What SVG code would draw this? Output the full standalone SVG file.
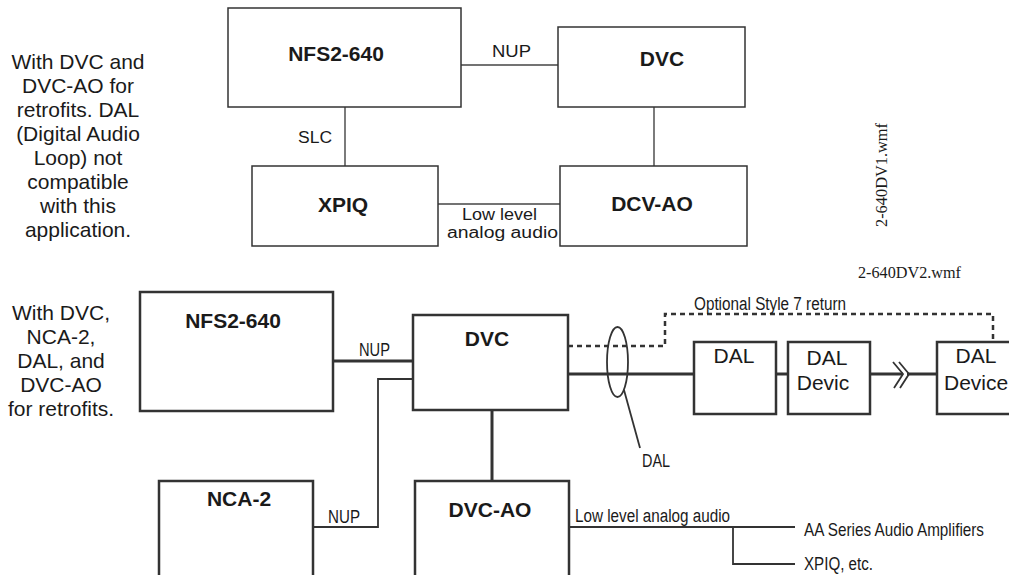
<svg xmlns="http://www.w3.org/2000/svg" width="1009" height="575" viewBox="0 0 1009 575">
<style>
text{font-family:"Liberation Sans",Arial,sans-serif;fill:#1a1a1a}
.note{font-size:21px;text-anchor:middle}
.bold{font-size:21px;font-weight:bold;text-anchor:middle}
.reg{font-size:21px;text-anchor:middle}
.lbl{font-size:16px}
.cond{font-size:18px}
.serif{font-family:"Liberation Serif","Times New Roman",serif;font-size:16px}
.box1{fill:#fff;stroke:#333;stroke-width:1.5}
.box2{fill:#fff;stroke:#333;stroke-width:2.5}
.ln1{fill:none;stroke:#444;stroke-width:1.4}
.ln2{fill:none;stroke:#333;stroke-width:1.8}
.thick{fill:none;stroke:#333;stroke-width:3}
.dash{fill:none;stroke:#333;stroke-width:2.5;stroke-dasharray:5 4}
</style>

<!-- Notes -->
<g id="note-top">
<text class="note" x="78" y="69">With DVC and</text>
<text class="note" x="78" y="93">DVC-AO for</text>
<text class="note" x="78" y="117">retrofits. DAL</text>
<text class="note" x="78" y="141">(Digital Audio</text>
<text class="note" x="78" y="165">Loop) not</text>
<text class="note" x="78" y="189">compatible</text>
<text class="note" x="78" y="213">with this</text>
<text class="note" x="78" y="237">application.</text>
</g>
<g id="note-bottom">
<text class="note" x="61" y="320">With DVC,</text>
<text class="note" x="61" y="344">NCA-2,</text>
<text class="note" x="61" y="368">DAL, and</text>
<text class="note" x="61" y="392">DVC-AO</text>
<text class="note" x="61" y="416">for retrofits.</text>
</g>
<g id="file-labels">
<text class="serif" transform="translate(887,227) rotate(-90)" textLength="104" lengthAdjust="spacingAndGlyphs">2-640DV1.wmf</text>
<text class="serif" x="858" y="278" textLength="103" lengthAdjust="spacingAndGlyphs">2-640DV2.wmf</text>
</g>

<!-- Connectors -->
<g id="connectors">
<!-- top diagram -->
<line class="ln1" x1="461" y1="65" x2="558" y2="65"/>
<line class="ln1" x1="345" y1="107" x2="345" y2="166"/>
<line class="ln1" x1="654" y1="107" x2="654" y2="166"/>
<line class="ln1" x1="438" y1="204" x2="560" y2="204"/>
<text class="lbl" x="492" y="57" textLength="39" lengthAdjust="spacingAndGlyphs">NUP</text>
<text class="lbl" x="298" y="143" textLength="34" lengthAdjust="spacingAndGlyphs">SLC</text>
<text class="lbl" x="462" y="220" textLength="75" lengthAdjust="spacingAndGlyphs">Low level</text>
<text class="lbl" x="447" y="238" textLength="111" lengthAdjust="spacingAndGlyphs">analog audio</text>

<!-- bottom diagram -->
<line class="thick" x1="333" y1="361" x2="413" y2="361"/>
<text class="cond" x="359" y="356" textLength="31" lengthAdjust="spacingAndGlyphs">NUP</text>
<polyline class="ln2" points="313,527 378,527 378,379 413,379"/>
<text class="cond" x="328" y="523" textLength="32" lengthAdjust="spacingAndGlyphs">NUP</text>
<line class="thick" x1="492" y1="410" x2="492" y2="481"/>
<polyline class="dash" points="568,346 665,346 665,314 993,314 993,342"/>
<text class="cond" x="694" y="310" textLength="152" lengthAdjust="spacingAndGlyphs">Optional Style 7 return</text>
<line class="thick" x1="568" y1="374" x2="694" y2="374"/>
<ellipse cx="617.5" cy="362" rx="10.5" ry="35" fill="none" stroke="#333" stroke-width="1.8"/>
<line class="ln2" x1="624" y1="390" x2="640" y2="448"/>
<text class="cond" x="642" y="467" textLength="28" lengthAdjust="spacingAndGlyphs">DAL</text>
<line class="thick" x1="776" y1="374" x2="788" y2="374"/>
<line class="thick" x1="870" y1="374" x2="903" y2="374"/>
<line class="thick" x1="907" y1="374" x2="937" y2="374"/>
<polyline class="ln2" points="893,362 903,374 894,388"/>
<polyline class="ln2" points="899,362 909,374 900,388"/>
<polyline class="ln2" points="569,527 795,527"/>
<polyline class="ln2" points="733,527 733,564 795,564"/>
<text class="cond" x="575" y="522" textLength="155" lengthAdjust="spacingAndGlyphs">Low level analog audio</text>
<g transform="translate(804,536) scale(1,1.2)">
<text x="0" y="0" style="font-size:15px" textLength="180" lengthAdjust="spacingAndGlyphs">AA Series Audio Amplifiers</text>
</g>
<text class="cond" x="804" y="570" textLength="69" lengthAdjust="spacingAndGlyphs">XPIQ, etc.</text>
</g>

<!-- Top diagram nodes -->
<g id="top-nfs2-640">
<rect class="box1" x="228" y="8" width="233" height="99"/>
<text class="bold" x="336" y="61">NFS2-640</text>
</g>
<g id="top-dvc">
<rect class="box1" x="558" y="27" width="187" height="80"/>
<text class="bold" x="662" y="66">DVC</text>
</g>
<g id="top-xpiq">
<rect class="box1" x="252" y="166" width="186" height="80"/>
<text class="bold" x="343" y="212">XPIQ</text>
</g>
<g id="top-dcv-ao">
<rect class="box1" x="560" y="166" width="187" height="80"/>
<text class="bold" x="652" y="211">DCV-AO</text>
</g>

<!-- Bottom diagram nodes -->
<g id="bot-nfs2-640">
<rect class="box2" x="140" y="292" width="193" height="119"/>
<text class="bold" x="233" y="328">NFS2-640</text>
</g>
<g id="bot-dvc">
<rect class="box2" x="413" y="315" width="155" height="95"/>
<text class="bold" x="487" y="346">DVC</text>
</g>
<g id="bot-nca-2">
<rect class="box2" x="159" y="481" width="154" height="110"/>
<text class="bold" x="239" y="506">NCA-2</text>
</g>
<g id="bot-dvc-ao">
<rect class="box2" x="415" y="481" width="154" height="110"/>
<text class="bold" x="490" y="517">DVC-AO</text>
</g>
<g id="dal-1">
<rect class="box2" x="694" y="342" width="82" height="72"/>
<text class="reg" x="734" y="363">DAL</text>
</g>
<g id="dal-2">
<rect class="box2" x="788" y="342" width="82" height="72"/>
<text class="reg" x="827" y="365">DAL</text>
<text class="reg" x="823" y="390">Devic</text>
</g>
<g id="dal-3">
<rect class="box2" x="937" y="342" width="90" height="72"/>
<text class="reg" x="976" y="363">DAL</text>
<text x="944" y="390" style="font-size:21px">Device</text>
</g>
</svg>
